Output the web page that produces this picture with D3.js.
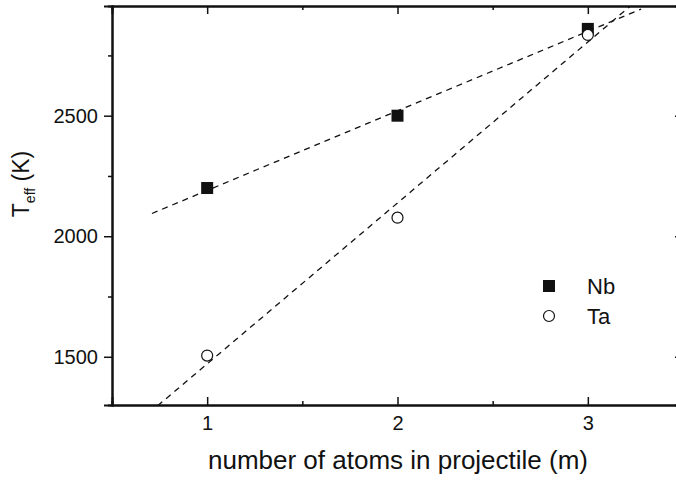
<!DOCTYPE html>
<html>
<head>
<meta charset="utf-8">
<script src="https://cdn.jsdelivr.net/npm/d3@7"></script>
<style>
  body { margin: 0; background: #fff; }
  text { font-family: "Liberation Sans", Arial, sans-serif; fill: #111; }
</style>
</head>
<body>
<div id="chart"></div>
<script>
// data
const m = [1, 2, 3]
const nb = [2200, 2500, 2860]
const ta = [1505, 2077, 2835]
// dashed fit lines: intercept / slope and x extent
const nbFit = { a: 1860, b: 330, x: [0.71, 3.28] }
const taFit = { a: 803, b: 667.5, x: [0.74, 3.4] }
const xTicks = [1, 2, 3]
const xMinor = [1.5, 2.5]
const yTicks = [1500, 2000, 2500]
const yMinor = [1750, 2250, 2750]

const W = 676, H = 482
const MARGIN = { TOP: 6, LEFT: 112, RIGHT: -7, BOTTOM: 77 }

const svg = d3.select("#chart").append("svg")
    .attr("width", W).attr("height", H)

const x = d3.scaleLinear().domain([0.5, 3.5]).range([MARGIN.LEFT, W - MARGIN.RIGHT])
const y = d3.scaleLinear().domain([1300, 2955]).range([H - MARGIN.BOTTOM, MARGIN.TOP])

svg.append("clipPath").attr("id", "clip")
  .append("rect")
    .attr("x", x.range()[0]).attr("y", y.range()[1])
    .attr("width", x.range()[1] - x.range()[0])
    .attr("height", y.range()[0] - y.range()[1])

// fit lines
const line = d3.line().x(d => x(d[0])).y(d => y(d[1]))
const plot = svg.append("g").attr("clip-path", "url(#clip)")
;[nbFit, taFit].forEach(f => {
    plot.append("path")
        .datum(f.x.map(v => [v, f.a + f.b * v]))
        .attr("d", line)
        .attr("fill", "none")
        .attr("stroke", "#111")
        .attr("stroke-width", 1.3)
        .attr("stroke-dasharray", "6,5")
})

// axes
const axisStyle = g => {
    g.select(".domain").attr("stroke", "#111").attr("stroke-width", 2)
    g.selectAll(".tick line").attr("stroke", "#111").attr("stroke-width", 1.5)
    g.selectAll(".tick text").style("font-size", "20px")
}

svg.append("g")
    .attr("transform", `translate(0,${y.range()[0]})`)
    .call(d3.axisBottom(x).tickValues(xTicks).tickSize(-8).tickPadding(11).tickFormat(d3.format("d")))
    .call(axisStyle)
svg.append("g")
    .attr("transform", `translate(0,${y.range()[0]})`)
    .call(d3.axisBottom(x).tickValues(xMinor).tickSize(-4).tickFormat(""))
    .call(axisStyle)
svg.append("g")
    .attr("transform", `translate(0,${y.range()[1]})`)
    .call(d3.axisTop(x).tickValues(xTicks).tickSize(-8).tickFormat(""))
    .call(axisStyle)
svg.append("g")
    .attr("transform", `translate(0,${y.range()[1]})`)
    .call(d3.axisTop(x).tickValues(xMinor).tickSize(-4).tickFormat(""))
    .call(axisStyle)

svg.append("g")
    .attr("transform", `translate(${x.range()[0]},0)`)
    .call(d3.axisLeft(y).tickValues(yTicks).tickSize(8).tickPadding(6).tickFormat(d3.format("d")))
    .call(axisStyle)
svg.append("g")
    .attr("transform", `translate(${x.range()[0]},0)`)
    .call(d3.axisLeft(y).tickValues(yMinor).tickSize(4).tickFormat(""))
    .call(axisStyle)
svg.append("g")
    .attr("transform", `translate(${x.range()[1]},0)`)
    .call(d3.axisRight(y).tickValues(yTicks).tickSize(-8).tickFormat(""))
    .call(axisStyle)

// points
svg.selectAll(".nb").data(m).enter()
  .append("rect")
    .attr("class", "nb")
    .attr("x", (d) => x(d) - 6)
    .attr("y", (d, i) => y(nb[i]) - 6)
    .attr("width", 12).attr("height", 12)
    .attr("fill", "#111")

svg.selectAll(".ta").data(m).enter()
  .append("circle")
    .attr("class", "ta")
    .attr("cx", (d) => x(d))
    .attr("cy", (d, i) => y(ta[i]))
    .attr("r", 5.5)
    .attr("fill", "#fff")
    .attr("stroke", "#111")
    .attr("stroke-width", 1.2)

// legend
const leg = svg.append("g").attr("transform", "translate(549,286)")
leg.append("rect").attr("x", -6).attr("y", -6).attr("width", 12).attr("height", 12).attr("fill", "#111")
leg.append("text").attr("x", 38).attr("y", 8).style("font-size", "22px").text("Nb")
leg.append("circle").attr("cx", 0).attr("cy", 30).attr("r", 5.5)
    .attr("fill", "#fff").attr("stroke", "#111").attr("stroke-width", 1.2)
leg.append("text").attr("x", 38).attr("y", 38).style("font-size", "22px").text("Ta")

// axis titles
svg.append("text")
    .attr("x", 398).attr("y", 469)
    .attr("text-anchor", "middle")
    .style("font-size", "26px")
    .text("number of atoms in projectile (m)")

const yt = svg.append("text")
    .attr("transform", "translate(29,184) rotate(-90)")
    .attr("text-anchor", "middle")
    .style("font-size", "23px")
yt.append("tspan").text("T")
yt.append("tspan").attr("dy", 6).style("font-size", "14px").text("eff")
yt.append("tspan").attr("dy", -6).text(" (K)")
</script>
</body>
</html>
